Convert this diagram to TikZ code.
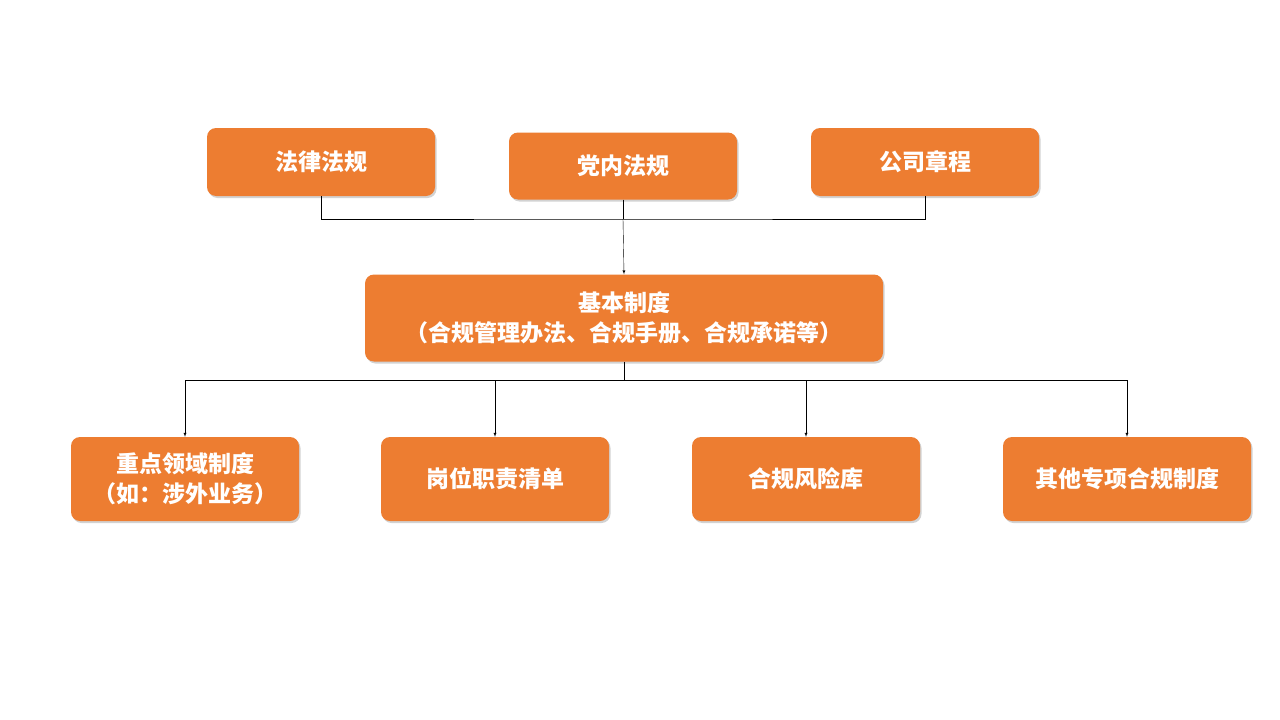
\documentclass[tikz,border=0pt]{standalone}
\usepackage{fontspec}
\setmainfont{Noto Sans CJK SC}
\usetikzlibrary{shadows}
\definecolor{boxorange}{HTML}{ED7D31}
\tikzset{
  box/.style={fill=boxorange, draw=none, rounded corners=9pt, text=white,
    font=\fontsize{23}{30}\selectfont\bfseries, align=center, inner sep=0pt,
    drop shadow={shadow xshift=1.5pt, shadow yshift=-2pt, opacity=0.35}},
  link/.style={thin, black},
  arr/.style={thin, black, -latex}
}
\begin{document}
\begin{tikzpicture}[x=1pt, y=-1pt]
		\useasboundingbox (0,0) rectangle (1280,720);
		\fill[white] (0,0) rectangle (1280,720);
		
		% top row
		\node[box, minimum width=228pt, minimum height=68pt] (law) at (321, 162) {法律法规};
		\node[box, minimum width=228pt, minimum height=67pt] (party) at (623, 166) {党内法规};
		\node[box, minimum width=228pt, minimum height=68pt] (charter) at (925, 162) {公司章程};
		
		% base
		\node[box, minimum width=518pt, minimum height=87pt] (base) at (624, 318) {基本制度\\（合规管理办法、合规手册、合规承诺等）};
		
		% bottom row
		\node[box, minimum width=228pt, minimum height=84pt] (key) at (185, 479) {重点领域制度\\（如：涉外业务）};
		\node[box, minimum width=228pt, minimum height=84pt] (duty) at (495, 479) {岗位职责清单};
		\node[box, minimum width=228pt, minimum height=84pt] (risk) at (806, 479) {合规风险库};
		\node[box, minimum width=248pt, minimum height=84pt] (other) at (1127, 479) {其他专项合规制度};
		
		\coordinate (top) at (623, 219);
		\draw[link] (law.south) |- (top) -| (charter.south);
		\draw[link] (party.south) -- (top);
		\draw[arr] (top) -- (base.north);
		
		\coordinate (split) at (624, 380);
		\draw[link] (base.south) -- (split);
		\foreach \n in {key, duty, risk, other}{
			\draw[arr] (split) -| (\n.north);
		}
\end{tikzpicture}
\end{document}
